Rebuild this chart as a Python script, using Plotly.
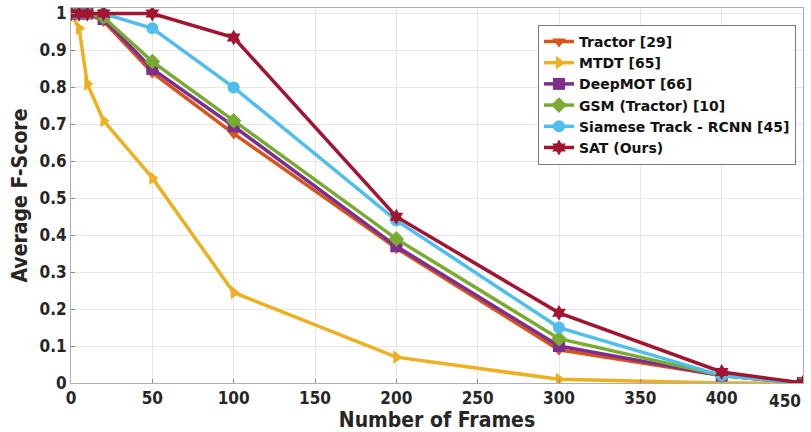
import plotly.graph_objects as go

frames = [0, 5, 10, 20, 50, 100, 200, 300, 400, 450]
tractor = [1.0, 1.0, 1.0, 0.98, 0.84, 0.675, 0.365, 0.09, 0.02, 0.0]
mtdt = [1.0, 0.96, 0.81, 0.71, 0.555, 0.245, 0.07, 0.01, 0.0, 0.0]
deepmot = [1.0, 1.0, 1.0, 0.985, 0.85, 0.695, 0.37, 0.10, 0.02, 0.0]
gsm = [1.0, 1.0, 1.0, 0.99, 0.87, 0.71, 0.39, 0.12, 0.02, 0.0]
siamese = [1.0, 1.0, 1.0, 1.0, 0.96, 0.80, 0.44, 0.15, 0.02, 0.0]
sat = [1.0, 1.0, 1.0, 1.0, 1.0, 0.935, 0.45, 0.19, 0.03, 0.0]

names = ["Tractor [29]", "MTDT [65]", "DeepMOT [66]", "GSM (Tractor) [10]",
         "Siamese Track - RCNN [45]", "SAT (Ours)"]
series = [tractor, mtdt, deepmot, gsm, siamese, sat]
colors = ["#D95319", "#EDB120", "#7E2F8E", "#77AC30", "#4DBEEE", "#A2142F"]
symbols = ["triangle-down", "triangle-right", "square", "diamond", "circle", "hexagram"]

xtick_vals = list(range(0, 451, 50))
xtick_text = [str(v) for v in xtick_vals]

fig = go.Figure()
for n, s, c, m in zip(names, series, colors, symbols):
    fig.add_trace(go.Scatter(x=frames, y=s, name=n, mode="lines+markers",
                             line=dict(color=c, width=3.5),
                             marker=dict(symbol=m, size=12, color=c)))

FAM = "DejaVu Sans Condensed, DejaVu Sans"
tickfont = dict(family=FAM, size=17, color="#262626", weight="bold")
# last tick label drawn flush with right edge (as in the reference)
shown_text = xtick_text[:-1] + [""]
fig.add_annotation(x=1.0, xref="paper", y=0, yref="paper", yshift=-6,
                   xanchor="right", yanchor="top", text=xtick_text[-1],
                   showarrow=False, font=tickfont)

fig.update_layout(
    width=811, height=432,
    margin=dict(l=71, r=8, t=8, b=49),
    paper_bgcolor="white", plot_bgcolor="white",
    showlegend=True,
    legend=dict(x=0.638, y=0.955, xanchor="left", yanchor="top",
                bgcolor="white", bordercolor="#7a7a7a", borderwidth=1,
                font=dict(family="DejaVu Sans", size=14, color="#111111", weight="bold"),
                tracegroupgap=0, itemwidth=30),
    xaxis=dict(range=[0, 450], tickvals=xtick_vals, ticktext=shown_text,
               automargin=False,
               showgrid=True, gridcolor="#e6e6e6", gridwidth=1,
               showline=True, linecolor="#b0b0b0", linewidth=1, mirror=True,
               ticks="inside", ticklen=4, tickcolor="#8a8a8a",
               tickfont=tickfont, zeroline=False,
               title=dict(text="Number of Frames", standoff=8,
                          font=dict(family=FAM, size=21, color="#262626", weight="bold"))),
    yaxis=dict(range=[0, 1.015], tickvals=[0, 0.1, 0.2, 0.3, 0.4, 0.5, 0.6, 0.7, 0.8, 0.9, 1],
               ticktext=["0", "0.1", "0.2", "0.3", "0.4", "0.5", "0.6", "0.7", "0.8", "0.9", "1"],
               automargin=False,
               showgrid=True, gridcolor="#e6e6e6", gridwidth=1,
               showline=True, linecolor="#b0b0b0", linewidth=1, mirror=True,
               ticks="inside", ticklen=4, tickcolor="#8a8a8a",
               tickfont=tickfont, zeroline=False,
               title=dict(text="Average F-Score", standoff=6,
                          font=dict(family=FAM, size=21, color="#262626", weight="bold"))),
)

fig.write_html("out.html")
